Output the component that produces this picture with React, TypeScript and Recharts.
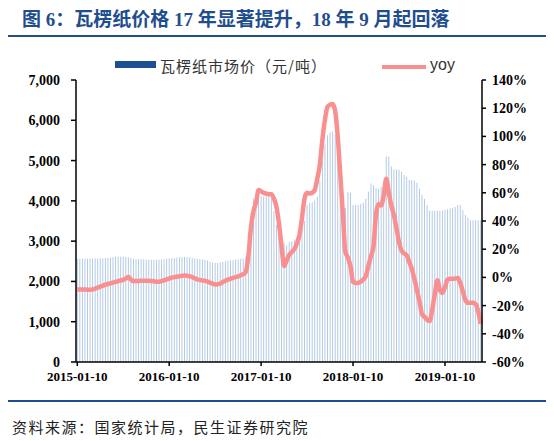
import { Bar, ComposedChart, Line, XAxis, YAxis } from "recharts";

// 旬度数据：2015-01-10 起，每 10 天一个点
const startYear = 2015;
const pointCount = 159;
const dayMarks = [10, 20, 30];

const dates: string[] = [];
for (let y = startYear; dates.length < pointCount; y++) {
  for (let m = 1; m <= 12 && dates.length < pointCount; m++) {
    for (const d of dayMarks) {
      if (dates.length >= pointCount) break;
      const day = m === 2 && d === 30 ? 28 : d;
      dates.push(`${y}-${String(m).padStart(2, "0")}-${String(day).padStart(2, "0")}`);
    }
  }
}

// 瓦楞纸市场价（元/吨）
const price = [
  2560, 2560, 2560, 2560, 2560, 2565, 2565, 2570, 2570, 2575, 2575, 2580, 2585, 2590, 2600,
  2610, 2615, 2615, 2610, 2605, 2600,
  2580, 2560, 2550, 2550, 2550, 2545, 2545, 2545, 2540, 2540, 2540, 2540, 2545, 2550,
  2560, 2570, 2575, 2580,
  2590, 2600, 2605, 2605, 2600, 2595, 2585,
  2570, 2560, 2550, 2545, 2540, 2520,
  2490, 2465, 2460, 2460, 2470, 2480,
  2500, 2515, 2525, 2535, 2545, 2550, 2560, 2570,
  2620, 3200, 3700, 4050,
  4100, 4120, 4120, 4110, 4100, 4100, 4090,
  3750, 3400, 3200, 3100, 2950, 2900, 2980, 3000, 3050, 3110, 3200, 3320, 3500,
  3900, 3950, 3960, 4000, 4100, 4500, 5000, 5400, 5630, 5700, 5720, 5650, 5100, 4500, 4140,
  3820, 4225, 4200, 3900, 3900, 3900, 3920, 3950, 4050, 4225, 4430, 4390, 4320, 4300, 4350, 4430,
  5110, 5100, 4850, 4780, 4780, 4770, 4720, 4650, 4600, 4520, 4515, 4500, 4450, 4300, 4150, 4050, 3900, 3760,
  3755, 3755, 3755, 3755, 3760, 3780, 3790, 3810, 3830, 3850, 3900, 3900, 3770, 3650, 3580, 3520, 3520, 3520, 3520, 3520,
];

// 同比（%）
const yoy = [
  -8.5, -8.5, -8.6, -8.6, -8.7, -8.7, -8.6, -8.0, -7.3, -6.5, -5.8, -5.2, -4.7, -4.2, -3.7, -3.2, -2.7, -2.2, -1.7,
  -0.8, 0.2, -1.5, -2.6, -2.5, -2.5, -2.4, -2.4, -2.3, -2.4, -2.6, -2.8, -3.0, -3.0,
  -2.6, -2.0, -1.4, -0.8, -0.2, 0.2, 0.5, 0.8, 1.1, 1.4, 1.2, 0.8, 0.2,
  -0.6, -1.4, -1.8, -2.1, -2.4, -3.0, -3.8, -4.5, -5.0, -4.8, -4.4, -3.3, -2.4, -1.6, -1.0, -0.3, 0.2, 0.7, 1.5, 2.3,
  4, 15, 35, 47, 53, 62, 61, 60, 59.5, 59, 59, 56, 50, 38, 22, 8,
  12, 16, 18, 20, 24, 30, 42, 56, 60, 59.5, 60, 62, 70, 80, 98, 112, 121, 122.5, 123,
  118, 100, 73, 46, 18, 14, 8, -3, -4, -4, -3, -1.5, 1, 8, 15, 22,
  45, 52, 51, 58, 70, 60, 51, 44, 35, 25, 19, 17, 15.6, 11, 6, -1, -9, -17, -26, -28, -30, -31,
  -23, -12, -2, -9, -11, -7, -1.5, -1, -1, -0.8, -0.5, -4, -10, -16, -18, -18, -18, -19, -24, -33,
];

const xTicks = ["2015-01-10", "2016-01-10", "2017-01-10", "2018-01-10", "2019-01-10"];
const priceTicks = [0, 1000, 2000, 3000, 4000, 5000, 6000, 7000];
const yoyTicks = [-60, -40, -20, 0, 20, 40, 60, 80, 100, 120, 140];

const data = dates.map((date, i) => ({ date, price: price[i], yoy: yoy[i] }));

const BAR = "#ADC6E3";
const LINE = "#F98F8F";
const NAVY = "#1F4E8F";
const tickFont = {
  fontFamily: "'Liberation Serif', 'Times New Roman', serif",
  fontWeight: 700,
  fill: "#000",
};

export default function App() {
  return (
    <div
      style={{
        position: "fixed",
        left: 0,
        top: 0,
        width: 554,
        height: 441,
        background: "#fff",
        fontFamily: "'Noto Sans CJK SC', sans-serif",
      }}
    >
      <div
        style={{
          position: "absolute",
          left: 22,
          top: 7,
          fontSize: 19,
          lineHeight: "26px",
          fontWeight: 700,
          color: NAVY,
          fontFamily: "'Liberation Serif', 'Noto Sans CJK SC', serif",
          whiteSpace: "nowrap",
        }}
      >
        图 6：瓦楞纸价格 17 年显著提升，18 年 9 月起回落
      </div>
      <div style={{ position: "absolute", left: 8, top: 35, width: 538, height: 2, background: NAVY }} />

      {/* legend */}
      <div style={{ position: "absolute", left: 115, top: 61, width: 41, height: 7, background: "#1C4F93" }} />
      <div
        style={{
          position: "absolute",
          left: 160,
          top: 56,
          fontSize: 15,
          lineHeight: "20px",
          color: "#333",
          letterSpacing: 1,
          whiteSpace: "nowrap",
        }}
      >
        瓦楞纸市场价（元/吨）
      </div>
      <div style={{ position: "absolute", left: 382, top: 65, width: 44, height: 4, background: LINE }} />
      <div
        style={{
          position: "absolute",
          left: 430,
          top: 55,
          fontSize: 16,
          lineHeight: "20px",
          color: "#333",
          fontFamily: "'Liberation Sans', Arial, sans-serif",
        }}
      >
        yoy
      </div>

      <div style={{ position: "absolute", left: 0, top: 0 }}>
        <ComposedChart
          width={554}
          height={400}
          data={data}
          margin={{ top: 80, right: 12, bottom: 8, left: 16 }}
          barCategoryGap="32%"
        >
          <XAxis
            dataKey="date"
            ticks={xTicks}
            interval={0}
            height={30}
            tick={{ ...tickFont, fontSize: 13 }}
            tickSize={4}
            tickMargin={6}
            axisLine={{ stroke: "#000", strokeWidth: 1.5 }}
            tickLine={{ stroke: "#000", strokeWidth: 1.5 }}
          />
          <YAxis
            yAxisId="left"
            width={60}
            domain={[0, 7000]}
            ticks={priceTicks}
            interval={0}
            tick={{ ...tickFont, fontSize: 14 }}
            tickSize={5}
            tickMargin={11}
            tickFormatter={(v: number) => v.toLocaleString("en-US")}
            axisLine={{ stroke: "#000", strokeWidth: 1.5 }}
            tickLine={{ stroke: "#000", strokeWidth: 1.5 }}
          />
          <YAxis
            yAxisId="right"
            orientation="right"
            width={60}
            domain={[-60, 140]}
            ticks={yoyTicks}
            interval={0}
            tick={{ ...tickFont, fontSize: 14 }}
            tickSize={4}
            tickMargin={6}
            tickFormatter={(v: number) => `${v}%`}
            axisLine={{ stroke: "#000", strokeWidth: 1.5 }}
            tickLine={{ stroke: "#000", strokeWidth: 1.5 }}
          />
          <Bar yAxisId="left" dataKey="price" fill={BAR} isAnimationActive={false} />
          <Line
            yAxisId="right"
            type="monotone"
            dataKey="yoy"
            stroke={LINE}
            strokeWidth={4.5}
            strokeLinejoin="round"
            dot={false}
            activeDot={false}
            isAnimationActive={false}
          />
        </ComposedChart>
      </div>

      <div style={{ position: "absolute", left: 8, top: 400, width: 538, height: 2, background: NAVY }} />
      <div
        style={{
          position: "absolute",
          left: 12,
          top: 417,
          fontSize: 15,
          lineHeight: "20px",
          color: "#222",
          letterSpacing: 1.5,
          whiteSpace: "nowrap",
        }}
      >
        资料来源：国家统计局，民生证券研究院
      </div>
    </div>
  );
}
